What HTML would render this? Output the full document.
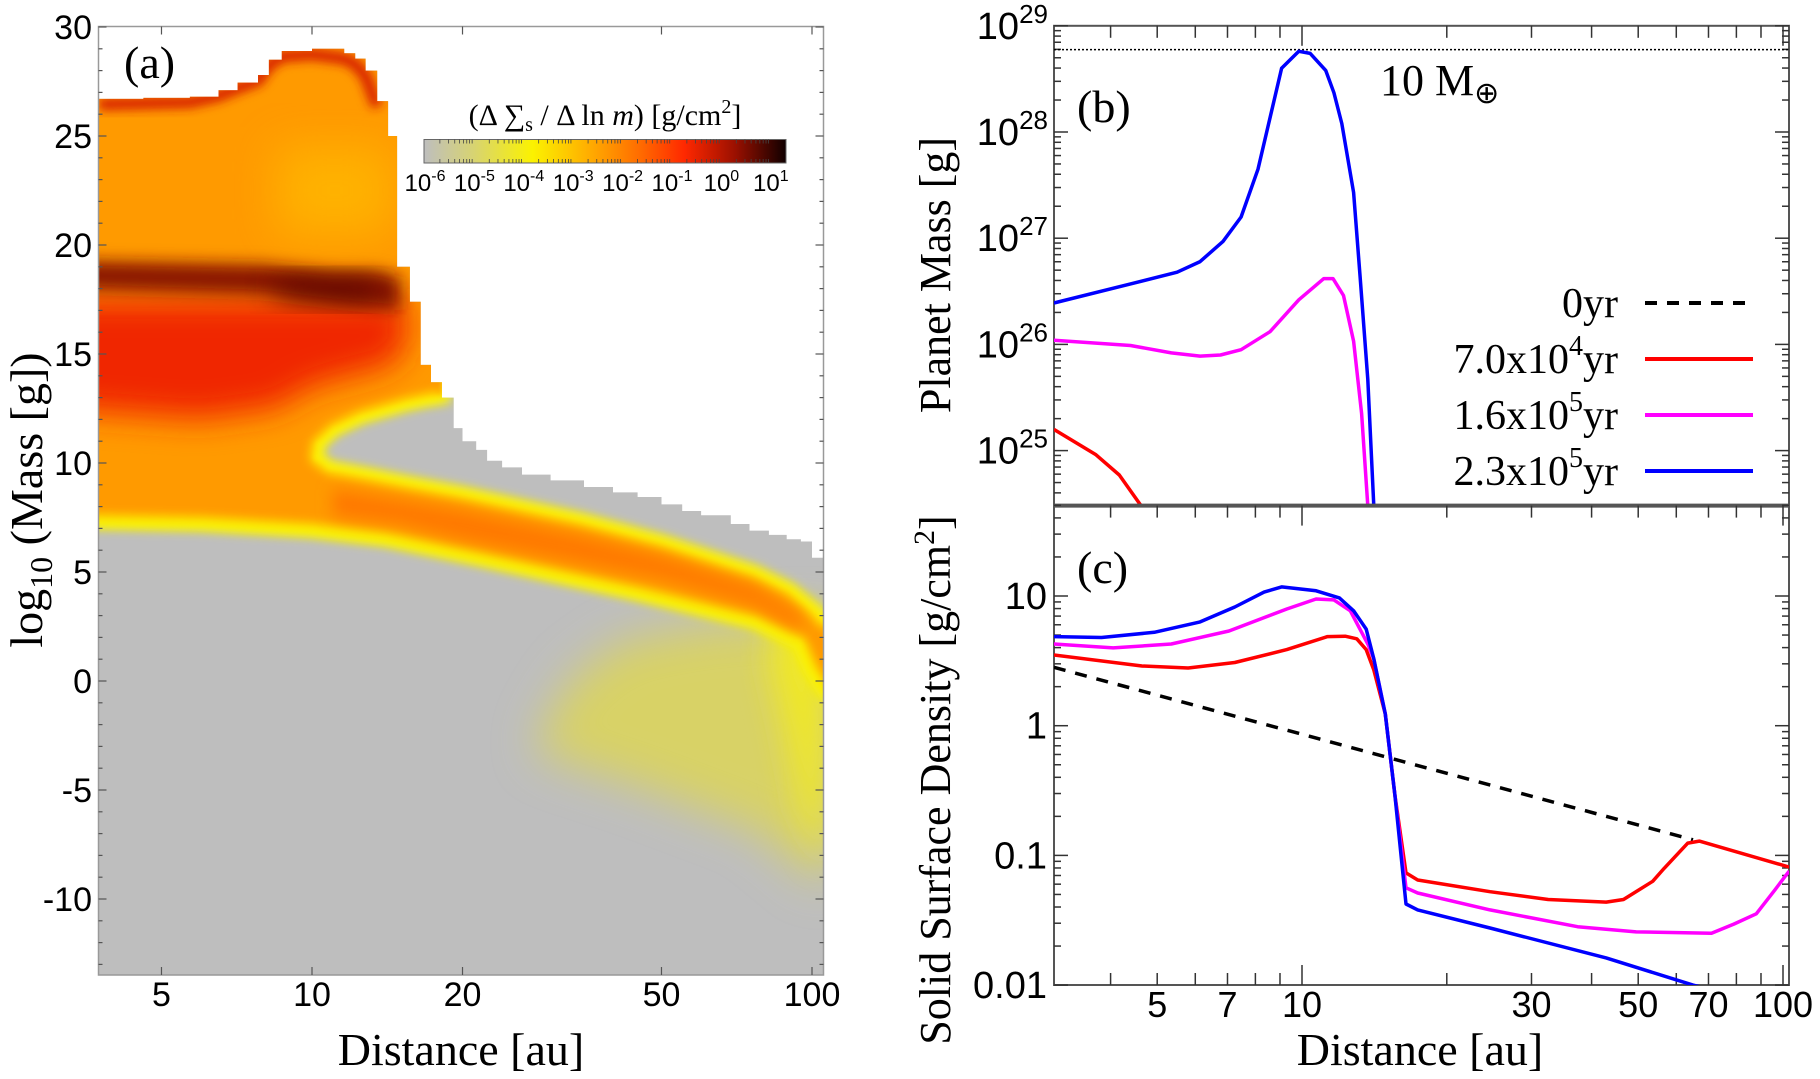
<!DOCTYPE html>
<html><head><meta charset="utf-8">
<style>
html,body{margin:0;padding:0;background:#fff;}
svg{display:block;}
.sans{font-family:"Liberation Sans",sans-serif;}
.serif{font-family:"Liberation Serif",serif;}
</style></head>
<body>
<svg id="fig" width="1820" height="1079" viewBox="0 0 1820 1079" xmlns="http://www.w3.org/2000/svg">
<defs>
<filter id="b2" x="-20%" y="-20%" width="140%" height="140%"><feGaussianBlur stdDeviation="2.5"/></filter>
<filter id="b4" x="-20%" y="-20%" width="140%" height="140%"><feGaussianBlur stdDeviation="5"/></filter>
<filter id="b7" x="-40%" y="-60%" width="180%" height="220%"><feGaussianBlur stdDeviation="8"/></filter>
<filter id="b12" x="-50%" y="-50%" width="200%" height="200%"><feGaussianBlur stdDeviation="16"/></filter>
<filter id="b20" x="-50%" y="-50%" width="200%" height="200%"><feGaussianBlur stdDeviation="22"/></filter>
<linearGradient id="cbar" x1="0" x2="1" y1="0" y2="0">
<stop offset="0" stop-color="#bebebe"/><stop offset="0.14" stop-color="#d8d470"/>
<stop offset="0.3" stop-color="#fbf200"/><stop offset="0.45" stop-color="#ffb000"/>
<stop offset="0.6" stop-color="#ff6a00"/><stop offset="0.72" stop-color="#ff2800"/>
<stop offset="0.86" stop-color="#9a1000"/><stop offset="1" stop-color="#100000"/>
</linearGradient>
<clipPath id="clipA"><path id="clipApath"/></clipPath>
<clipPath id="clipB"><rect x="1054" y="25.8" width="735" height="479.8"/></clipPath>
<clipPath id="clipC"><rect x="1054" y="505.6" width="735" height="479.4"/></clipPath>
</defs>
<g id="panelA"></g>
<g id="panelB"></g>
<g id="panelC"></g>
</svg>
<script>
// ---------- Panel (a) heatmap data (distance au, log10 mass) ----------
const topEdgeD = [3.75,4.6,5.7,6.5,7.1,7.8,8.2,8.7,10,11.6,12.2,12.8,13.5,14.2,14.8,15.7,16.5,17.3,18.2,19.2,20,21.3,22.4,24,26.3,30,35,40,44.8,50,55,60,68.8,75,82,89,95,100,105.6];
const topEdgeM = [26.7,26.75,26.8,27.1,27.45,27.8,28.5,28.9,29.0,28.8,28.55,28.0,26.6,25.0,19.0,17.4,14.5,13.7,13.0,11.6,11.0,10.6,10.1,9.8,9.47,9.2,8.9,8.65,8.44,8.1,7.8,7.6,7.2,6.9,6.7,6.5,6.4,5.65,5.65];
const upYelD = [18.2,17,15.4,12.5,11,10.2,10.1,10.8,13,15.4,20,34.4,50,76.6,90,100,107];
const upYelM = [13.1,13.0,12.8,12.2,11.6,10.9,10.2,9.7,9.35,9.0,8.5,7.3,6.3,4.9,4.1,3.2,2.5];
const lowYelD = [3.5,6,10,14,21.7,45,77,95,100,107];
const lowYelM = [7.4,7.3,7.0,6.6,5.7,4.1,2.8,1.8,0.6,-0.5];
const coreD = [11,15,20,35,50,77,95];
const coreTop = [8.8,8.3,7.8,6.6,5.7,4.3,3.0];
const coreBot = [7.6,7.2,6.5,5.4,4.7,3.5,2.4];
const faintD = [107,60,42,34,31,28,30,45,77,107];
const faintM = [3,2.5,1.8,0.3,-1,-3,-3.5,-4.8,-6.8,-9.5];
const stripD = [85,107,107,95,88,82];
const stripM = [3,3,-8.5,-6,-2,1];
const darkD = [3.0,8,11,13.5,15,15,13.5,11,8,3.0];
const darkM = [19.3,19.1,18.8,18.8,18.5,17.0,17.1,17.3,17.7,18.0];
const coreDarkD = [8.5,13.5,13.5,8.5];
const coreDarkM = [18.5,18.4,17.4,17.6];
const redD = [3.0,6,8.5,10,12,14.5,15.5,15.5,3.0];
const redM = [12.5,12,12.5,13.5,14,14.5,15.5,17.5,17.5];
const lightD = [8.5,14.5,14.5,8.5];
const lightM = [20.5,20.5,24.5,24.5];
const cbLabels = ["-6","-5","-4","-3","-2","-1","0","1"];
// ---------- Panel (b) ----------
const blueBD = [3.05,4.4,5.5,6.14,6.85,7.47,8.1,9.07,9.85,10.4,11.2,11.65,12.1,12.8,13.2,13.7,14.1];
const blueBM = [26.39,26.57,26.68,26.78,26.97,27.2,27.65,28.6,28.76,28.74,28.58,28.37,28.08,27.43,26.65,25.67,24.48];
const magBD = [3.05,4.4,5.35,6.14,6.77,7.47,8.58,9.85,11.1,11.6,12.2,12.8,13.3,13.7];
const magBM = [26.04,25.99,25.92,25.89,25.9,25.95,26.12,26.42,26.62,26.62,26.46,26.03,25.35,24.48];
const redBD = [3.05,3.73,4.17,4.63];
const redBM = [25.2,24.96,24.77,24.48];
const tenEarthLog = 28.776;
const bTicks = [25,26,27,28,29];
// ---------- Panel (c) ----------
const blueCD = [3.05,3.83,4.93,6.14,7.25,8.34,9.07,10.7,11.96,12.8,13.6,14.1,14.9,15.6,16.45,17.4,24.6,42.9,65,70];
const blueCL = [0.687,0.68,0.72,0.80,0.915,1.03,1.07,1.04,0.985,0.886,0.745,0.516,0.09,-0.535,-1.375,-1.42,-1.56,-1.79,-2.0,-2.03];
const magCD = [3.05,4.05,5.35,7.05,9.3,10.7,11.65,12.6,13.7,14.1,14.9,15.6,16.45,17.4,24.6,37.4,49.5,71,79,88,96,103];
const magCL = [0.63,0.60,0.63,0.73,0.90,0.977,0.97,0.886,0.63,0.516,0.09,-0.535,-1.25,-1.29,-1.42,-1.55,-1.59,-1.60,-1.53,-1.45,-1.27,-1.12];
const redCD = [3.05,4.65,5.8,7.25,9.3,11.3,12.3,13,13.6,14.1,14.9,15.6,16.45,17.4,24.6,32.5,42.9,46.6,53.6,56.6,63.4,67,103];
const redCL = [0.545,0.46,0.445,0.487,0.587,0.687,0.69,0.67,0.587,0.43,0.09,-0.535,-1.135,-1.19,-1.28,-1.34,-1.36,-1.34,-1.2,-1.10,-0.905,-0.89,-1.09];
const dashCD = [3.05,65];
const dashCL = [0.45,-0.88];
const cTickVals = [-2,-1,0,1];
const cTickLabels = ["0.01","0.1","1","10"];
const xTickC = [5,7,10,30,50,70,100];
const xTickA = [5,10,20,50,100];
const legendLabels = [["0yr",""],["7.0x10","4"],["1.6x10","5"],["2.3x10","5"]];
const legendColors = ["#000","#ff0000","#ff00ff","#0000ff"];

const NS="http://www.w3.org/2000/svg";
function mk(tag,attrs,parent){const e=document.createElementNS(NS,tag);for(const k in attrs)e.setAttribute(k,attrs[k]);parent.appendChild(e);return e;}
const L=Math.log10;
const xa=d=>312+500*L(d/10), ya=v=>681-21.8*v;
const xb=d=>1302+481*L(d/10), yb=m=>25.8+(29-m)*106.2, yc=l=>596+(1-l)*129.7;
function pts(D,M,fx,fy){return D.map((d,i)=>fx(d).toFixed(1)+","+fy(M[i]).toFixed(1));}
function poly(D,M){return "M"+pts(D,M,xa,ya).join(" L")+" Z";}

// ===== Panel A =====
const A=document.getElementById('panelA');
let cp="M98.5,975 L98.5,"+ya(topEdgeM[0]).toFixed(1);
for(let i=1;i<topEdgeD.length;i++){const x=Math.min(823.5,xa(topEdgeD[i])).toFixed(1);cp+=" L"+x+","+ya(topEdgeM[i-1]).toFixed(1)+" L"+x+","+ya(topEdgeM[i]).toFixed(1);}
cp+=" L823.5,975 Z";
document.getElementById('clipApath').setAttribute('d',cp);
const hg=mk('g',{'clip-path':'url(#clipA)'},A);


const bgr=mk('rect',{x:98.5,y:26,width:725.5,height:949,fill:'#bebebe'},hg);


const fr=mk('path',{d:poly(faintD,faintM),fill:'#d8d266',filter:'url(#b20)'},hg);


const sr=mk('path',{d:poly(stripD,stripM),fill:'#f0e828',filter:'url(#b12)'},hg);


const mainD=[3.0,18.5].concat(upYelD).concat([108,108]).concat(lowYelD.slice().reverse()).concat([3.0]);
const mainM=[31,31].concat(upYelM).concat([2.5,-0.5]).concat(lowYelM.slice().reverse()).concat([7.4]);
const yel=mk('path',{d:poly(mainD,mainM),fill:'none',stroke:'#f6ee10','stroke-width':18,filter:'url(#b4)'},hg);


const mr=mk('path',{d:poly(mainD,mainM),fill:'#ff9a00',filter:'url(#b2)'},hg);


const ye2=mk('path',{d:"M"+pts(upYelD,upYelM,xa,ya).join(" L"),fill:'none',stroke:'#fff000','stroke-width':8,filter:'url(#b4)'},hg);


const ye3=mk('path',{d:"M"+pts(lowYelD,lowYelM,xa,ya).join(" L"),fill:'none',stroke:'#fbf000','stroke-width':10,filter:'url(#b4)'},hg);


const cr=mk('path',{d:"M"+pts(coreD,coreTop,xa,ya).join(" L")+" L"+pts(coreD.slice().reverse(),coreBot.slice().reverse(),xa,ya).join(" L")+"Z",fill:'#ff7800',filter:'url(#b7)'},hg);


const lr=mk('path',{d:poly(lightD,lightM),fill:'#ffb800',opacity:0.8,filter:'url(#b20)'},hg);


const rr=mk('path',{d:poly(redD,redM),fill:'#f02800',filter:'url(#b12)'},hg);


const dr=mk('path',{d:poly(darkD,darkM),fill:'#8a1200',filter:'url(#b7)'},hg);


const dc=mk('path',{d:poly(coreDarkD,coreDarkM),fill:'#4a0600',opacity:0.8,filter:'url(#b12)'},hg);


const rimI=topEdgeD.findIndex(d=>d>=13.5);
const rim=mk('path',{d:"M"+pts(topEdgeD.slice(0,rimI+1),topEdgeM.slice(0,rimI+1).map(m=>m-0.25),xa,ya).join(" L"),fill:'none',stroke:'#d82400','stroke-width':12,filter:'url(#b4)'},hg);


const fa=mk('rect',{x:98.5,y:26.5,width:725,height:948.5,fill:'none',stroke:'#999','stroke-width':1.5},A);


for(let v=-13;v<=30;v++){const len=v%5===0?8:4;const y=ya(v);
 const t1=mk('line',{x1:98.5,x2:98.5+len,y1:y,y2:y,stroke:'#555','stroke-width':1.2},A);
 
 
 const t2=mk('line',{x1:823.5,x2:823.5-len,y1:y,y2:y,stroke:'#555','stroke-width':1.2},A);
 
 
 if(v%5===0){const tx=mk('text',{x:92,y:y+12,'text-anchor':'end','font-size':34,class:'sans'},A);tx.textContent=String(v);
  
  }
}
xTickA.forEach(d=>{const x=xa(d);
 const t1=mk('line',{x1:x,x2:x,y1:975,y2:967,stroke:'#555','stroke-width':1.2},A);
 
 
 const t2=mk('line',{x1:x,x2:x,y1:26.5,y2:34.5,stroke:'#555','stroke-width':1.2},A);
 
 
 const tx=mk('text',{x:x,y:1006,'text-anchor':'middle','font-size':34,class:'sans'},A);tx.textContent=String(d);
 
 
});
let t=mk('text',{x:461,y:1065,'text-anchor':'middle','font-size':46,class:'serif'},A);t.textContent="Distance [au]";


t=mk('text',{x:0,y:0,'text-anchor':'middle','font-size':46,class:'serif',transform:'translate(42,500) rotate(-90)'},A);
t.innerHTML='log<tspan font-size="32" dy="10">10</tspan><tspan dy="-10"> (Mass [g])</tspan>';


t=mk('text',{x:124,y:78,'font-size':46,class:'serif'},A);t.textContent="(a)";


t=mk('text',{x:605,y:125,'text-anchor':'middle','font-size':30,class:'serif'},A);
t.innerHTML='(Δ ∑<tspan font-size="20" dy="6">s</tspan><tspan dy="-6"> / Δ ln </tspan><tspan font-style="italic">m</tspan>) [g/cm<tspan font-size="20" dy="-12">2</tspan><tspan dy="12">]</tspan>';


const cb=mk('rect',{x:424,y:139.5,width:362,height:23.5,fill:'url(#cbar)',stroke:'#666','stroke-width':1},A);


cbLabels.forEach((s,i)=>{const x=425+i*49.4;
 for(let k=2;k<10&&i<7;k++){const mx=x+49.4*L(k);
  const m1=mk('line',{x1:mx,x2:mx,y1:163,y2:159,stroke:'#444','stroke-width':0.8},A);
  
  
  const m2=mk('line',{x1:mx,x2:mx,y1:139.5,y2:143.5,stroke:'#444','stroke-width':0.8},A);
  
  }
 const tx=mk('text',{x:x,y:191,'text-anchor':'middle','font-size':24,class:'sans'},A);
 tx.innerHTML='10<tspan font-size="16" dy="-10">'+s+'</tspan>';
 
 
});

// ===== Panels B & C axes =====
const B=document.getElementById('panelB'), C=document.getElementById('panelC');
function frame(P,y0,y1,nm){const r=mk('rect',{x:1054,y:y0,width:735,height:y1-y0,fill:'none',stroke:'#555','stroke-width':2},P);
 
 }
frame(B,25.8,505.6,'panel-b-frame');frame(C,505.6,985,'panel-c-frame');
const sep=mk('line',{x1:1054,x2:1789,y1:505.6,y2:505.6,stroke:'#555','stroke-width':4},C);


for(let dec=1;dec<=100;dec*=10){for(let k=1;k<10;k++){const d=dec*k;if(d<3.05||d>103)continue;const x=xb(d);const len=(k===1)?20:12;
 [[985,985-len],[505.6,505.6+len],[25.8,25.8+len]].forEach(p=>{const l=mk('line',{x1:x,x2:x,y1:p[0],y2:p[1],stroke:'#333','stroke-width':1.5},C);
  
  });}}
xTickC.forEach(d=>{const tx=mk('text',{x:xb(d),y:1017,'text-anchor':'middle','font-size':36,class:'sans'},C);tx.textContent=String(d);
 
 });
t=mk('text',{x:1420,y:1065,'text-anchor':'middle','font-size':46,class:'serif'},C);t.textContent="Distance [au]";


for(let m=24;m<=29;m++){for(let k=1;k<10;k++){const lm=m+L(k);if(lm<24.48||lm>29.01)continue;const y=yb(lm);const len=k===1?14:7;
 [[1054,1054+len],[1789,1789-len]].forEach(p=>{const l=mk('line',{x1:p[0],x2:p[1],y1:y,y2:y,stroke:'#333','stroke-width':1.5},B);
  
  });}}
bTicks.forEach(m=>{const tx=mk('text',{x:1048,y:yb(m)+13,'text-anchor':'end','font-size':38,class:'sans'},B);
 tx.innerHTML='10<tspan font-size="26" dy="-16">'+m+'</tspan>';
 
 });
for(let e=-2;e<=1;e++){for(let k=1;k<10;k++){const l2=e+L(k);if(l2>1.7)continue;const y=yc(l2);const len=k===1?14:7;
 [[1054,1054+len],[1789,1789-len]].forEach(p=>{const l=mk('line',{x1:p[0],x2:p[1],y1:y,y2:y,stroke:'#333','stroke-width':1.5},C);
  
  });}}
cTickVals.forEach((v,i)=>{const tx=mk('text',{x:1047,y:yc(v)+13,'text-anchor':'end','font-size':38,class:'sans'},C);tx.textContent=cTickLabels[i];
 
 });
t=mk('text',{x:0,y:0,'text-anchor':'middle','font-size':44,class:'serif',transform:'translate(950,275) rotate(-90)'},B);t.textContent="Planet Mass [g]";


t=mk('text',{x:0,y:0,'text-anchor':'middle','font-size':44,class:'serif',transform:'translate(950,780) rotate(-90)'},C);
t.innerHTML='Solid Surface Density [g/cm<tspan font-size="30" dy="-16">2</tspan><tspan dy="16">]</tspan>';


t=mk('text',{x:1077,y:122,'font-size':46,class:'serif'},B);t.textContent="(b)";


t=mk('text',{x:1077,y:583,'font-size':46,class:'serif'},C);t.textContent="(c)";


t=mk('text',{x:1380,y:95,'font-size':44,class:'serif'},B);t.innerHTML='10 M<tspan font-size="30" dy="8">⊕</tspan>';



const gB=mk('g',{'clip-path':'url(#clipB)'},B);
const dl=mk('line',{x1:1054,x2:1789,y1:yb(tenEarthLog),y2:yb(tenEarthLog),stroke:'#000','stroke-width':1.5,'stroke-dasharray':'2,2'},gB);


function line(g,D,V,fy,col,nm,dash){const p=mk('polyline',{points:pts(D,V,xb,fy).join(" "),fill:'none',stroke:col,'stroke-width':3.5,'stroke-linejoin':'round'},g);
 if(dash)p.setAttribute('stroke-dasharray',dash);
 
 }
line(gB,redBD,redBM,yb,'#ff0000','series-7e4yr-mass');
line(gB,magBD,magBM,yb,'#ff00ff','series-1.6e5yr-mass');
line(gB,blueBD,blueBM,yb,'#0000ff','series-2.3e5yr-mass');
const gC=mk('g',{'clip-path':'url(#clipC)'},C);
line(gC,dashCD,dashCL,yc,'#000','series-0yr-density','12,10');
line(gC,redCD,redCL,yc,'#ff0000','series-7e4yr-density');
line(gC,magCD,magCL,yc,'#ff00ff','series-1.6e5yr-density');
line(gC,blueCD,blueCL,yc,'#0000ff','series-2.3e5yr-density');
legendLabels.forEach((lab,i)=>{const y=303+i*56;
 const tx=mk('text',{x:1618,y:y+14,'text-anchor':'end','font-size':42,class:'serif'},B);
 tx.innerHTML=lab[0]+(lab[1]?'<tspan font-size="28" dy="-18">'+lab[1]+'</tspan><tspan dy="18">yr</tspan>':'');
 
 
 const ln=mk('line',{x1:1645,x2:1753,y1:y,y2:y,stroke:legendColors[i],'stroke-width':4},B);
 if(i===0)ln.setAttribute('stroke-dasharray','12,10');
 
 
});
</script>
</body></html>
